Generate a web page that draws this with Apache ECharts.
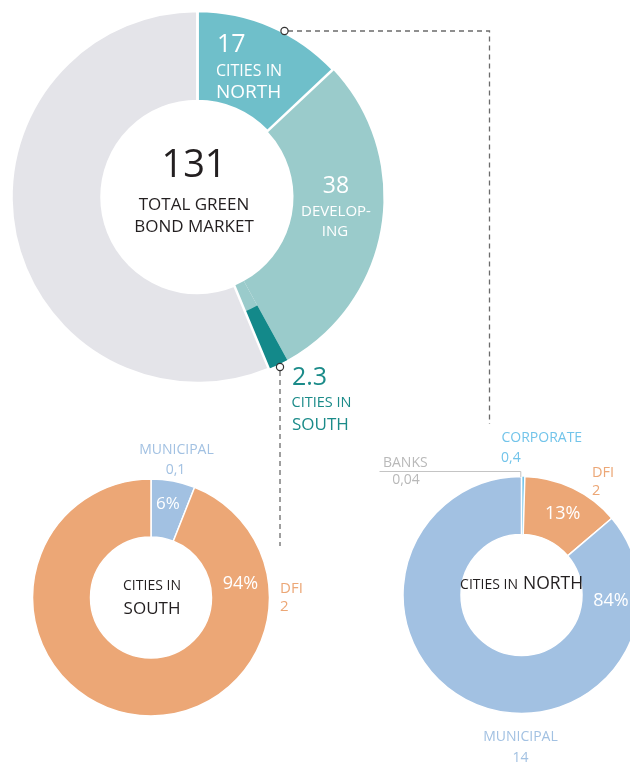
<!DOCTYPE html>
<html>
<head>
<meta charset="utf-8">
<script src="https://cdn.jsdelivr.net/npm/echarts@6/dist/echarts.min.js"></script>
<style>
  html, body { margin: 0; padding: 0; background: #ffffff; }
  #chart { width: 630px; height: 762px; }
</style>
</head>
<body>
<div id="chart"></div>
<script>
// Green bond market split (large ring) and issuer breakdowns (small rings)
const bigNames = ['CITIES IN NORTH', 'DEVELOPING', 'CITIES IN SOUTH', 'OTHER'];
const bigValues = [17, 38, 2.3];
const bigTotal = 131;

const southNames = ['MUNICIPAL', 'DFI'];
const southAmounts = ['0,1', '2'];
const southShares = [6, 94];

const northNames = ['BANKS', 'CORPORATE', 'DFI', 'MUNICIPAL'];
const northAmounts = ['0,04', '0,4', '2', '14'];
const northShares = [0.04, 0.4, 13, 84];

const FONT = '"Open Sans", "Noto Sans", sans-serif';
const C = {
  north: '#6fbfca', developing: '#9acbcb', south: '#13898a', rest: '#e4e4e9',
  orange: '#eca776', blue: '#a2c1e2', corporate: '#72c4ea', banks: '#c6c6c6',
  dark: '#231f20', southText: '#1b8b89', dash: '#6b6b6b'
};

const bigRest = bigTotal - bigValues.reduce((a, b) => a + b, 0);
const bigData = bigValues.concat([bigRest]);
const BIG_CENTER = [197.5, 197];

function ring(name, center, radius, data, itemStyles, extra) {
  return Object.assign({
    type: 'pie', name, center, radius,
    startAngle: 90, clockwise: true,
    label: { show: false }, labelLine: { show: false },
    emphasis: { disabled: true }, silent: true, animation: false,
    avoidLabelOverlap: false,
    data: data.map((v, i) => ({ value: v, name: (extra && extra.names ? extra.names[i] : String(i)), itemStyle: itemStyles[i] }))
  }, extra && extra.opts ? extra.opts : {});
}

function txt(x, y, text, size, color, align) {
  return {
    type: 'text', z: 100, silent: true,
    style: {
      x, y, text: String(text), fill: color,
      font: size + 'px ' + FONT,
      textAlign: align || 'center', textVerticalAlign: 'middle'
    }
  };
}

const T = 'transparent';

const series = [
  // full ring; the south share sits on the developing tone at the inner part
  ring('market', BIG_CENTER, [96, 186], bigData, [
    { color: C.north }, { color: C.developing }, { color: C.developing }, { color: C.rest }
  ], { names: bigNames }),
  // outer band highlighting the south share
  ring('south band', BIG_CENTER, [124, 186], bigData, [
    { color: T }, { color: T }, { color: C.south }, { color: T }
  ], { names: bigNames, opts: { z: 3 } }),
  // white separators
  ring('separators', BIG_CENTER, [96, 186], bigData, [
    { color: T, borderColor: '#ffffff', borderWidth: 2.5 },
    { color: T, borderWidth: 0 },
    { color: T, borderWidth: 0 },
    { color: T, borderColor: '#ffffff', borderWidth: 2.5 }
  ], { names: bigNames, opts: { z: 4 } }),
  ring('south issuers', [151, 597.5], [60.5, 118.5], southShares, [
    { color: C.blue, borderColor: '#fff', borderWidth: 1.5 },
    { color: C.orange, borderColor: '#fff', borderWidth: 1.5 }
  ], { names: southNames }),
  ring('north issuers', [521.5, 595], [60.5, 118.5], northShares, [
    { color: C.banks, borderColor: '#fff', borderWidth: 0.6 },
    { color: C.corporate, borderColor: '#fff', borderWidth: 0.6 },
    { color: C.orange, borderColor: '#fff', borderWidth: 1.5 },
    { color: C.blue, borderColor: '#fff', borderWidth: 1.5 }
  ], { names: northNames })
];

const graphics = [
  // connectors
  { type: 'polyline', z: 90, silent: true,
    shape: { points: [[288, 31], [489.5, 31], [489.5, 424]] },
    style: { stroke: C.dash, lineWidth: 1.3, lineDash: [5, 4], fill: null } },
  { type: 'polyline', z: 90, silent: true,
    shape: { points: [[280, 371], [280, 546]] },
    style: { stroke: C.dash, lineWidth: 1.3, lineDash: [5, 4], fill: null } },
  { type: 'circle', z: 95, silent: true, shape: { cx: 284.5, cy: 31, r: 3.6 },
    style: { fill: '#fff', stroke: '#333', lineWidth: 1.2 } },
  { type: 'circle', z: 95, silent: true, shape: { cx: 280, cy: 367, r: 3.6 },
    style: { fill: '#fff', stroke: '#333', lineWidth: 1.2 } },
  // banks leader
  { type: 'polyline', z: 90, silent: true,
    shape: { points: [[379.5, 471.5], [520.8, 471.5], [520.8, 477]] },
    style: { stroke: '#c4c4c4', lineWidth: 1, fill: null } },

  // large ring
  txt(217, 45, bigValues[0], 25, '#fff', 'left'),
  txt(216, 71.5, 'CITIES IN', 16, '#fff', 'left'),
  txt(216, 93, 'NORTH', 19, '#fff', 'left'),
  txt(336, 186, bigValues[1], 23, '#fff'),
  txt(336, 212, 'DEVELOP-', 15, '#fff'),
  txt(335, 231.7, 'ING', 15, '#fff'),
  txt(194, 166.5, bigTotal, 38, C.dark),
  txt(194, 205, 'TOTAL GREEN', 17, C.dark),
  txt(194, 227.5, 'BOND MARKET', 17, C.dark),
  txt(292, 378, bigValues[2], 25, C.southText, 'left'),
  txt(291.5, 403, 'CITIES IN', 14.5, C.southText, 'left'),
  txt(292, 425, 'SOUTH', 17, C.southText, 'left'),

  // south ring
  txt(176.5, 450.5, southNames[0], 14, C.blue),
  txt(175.5, 470, southAmounts[0], 14, C.blue),
  txt(168, 504.3, southShares[0] + '%', 17, '#fff'),
  txt(240.5, 583.5, southShares[1] + '%', 18, '#fff'),
  txt(280, 588.5, southNames[1], 15, C.orange, 'left'),
  txt(280, 607, southAmounts[1], 15, C.orange, 'left'),
  txt(152, 585.7, 'CITIES IN', 14, C.dark),
  txt(152, 608.7, 'SOUTH', 17, C.dark),

  // north ring
  txt(518, 585, 'CITIES IN', 14, C.dark, 'right'),
  txt(523, 584, 'NORTH', 17.5, C.dark, 'left'),
  txt(611, 601.3, northShares[3] + '%', 18, '#fff'),
  txt(562.7, 513.7, northShares[2] + '%', 18, '#fff'),
  txt(520.5, 736.7, northNames[3], 14, C.blue),
  txt(520.5, 758, northAmounts[3], 14, C.blue),
  txt(592, 472.7, northNames[2], 14.5, C.orange, 'left'),
  txt(592, 490.7, northAmounts[2], 14.5, C.orange, 'left'),
  txt(501.5, 437.8, northNames[1], 14, C.corporate, 'left'),
  txt(501, 457.7, northAmounts[1], 14, C.corporate, 'left'),
  txt(405.3, 462.7, northNames[0], 14, '#b9b9b9'),
  txt(406, 480, northAmounts[0], 14, '#b9b9b9')
];

const chart = echarts.init(document.getElementById('chart'), null, { renderer: 'canvas' });
chart.setOption({
  backgroundColor: '#ffffff',
  animation: false,
  series,
  graphic: { elements: graphics }
});
</script>
</body>
</html>
